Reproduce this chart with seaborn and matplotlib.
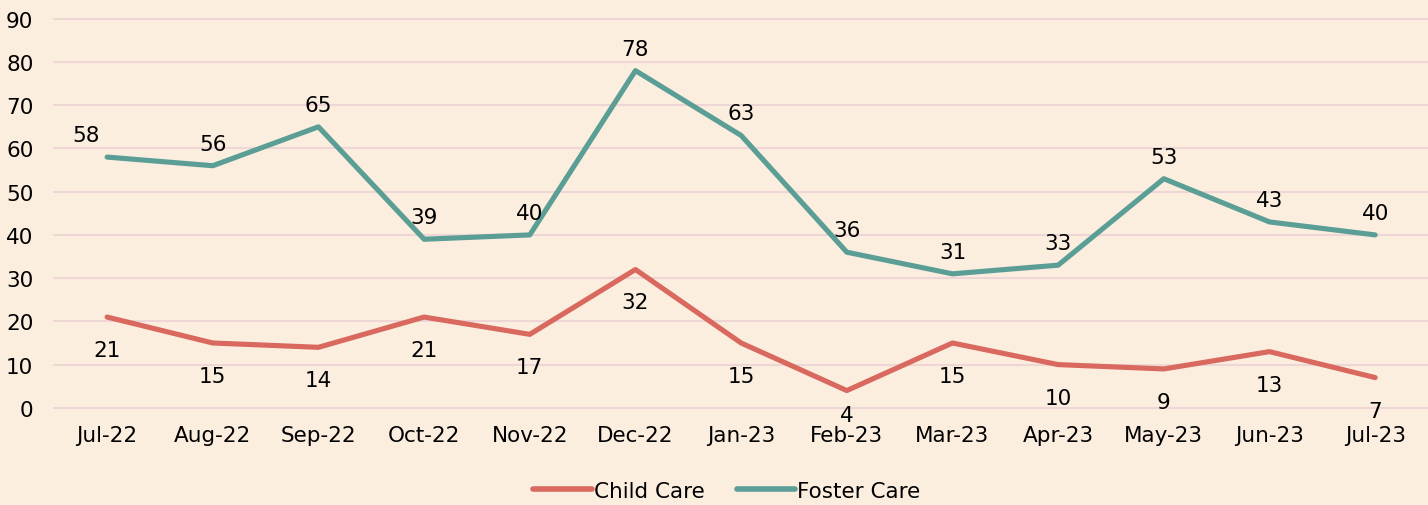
import pandas as pd
import seaborn as sns
import matplotlib.pyplot as plt

months = ["Jul-22", "Aug-22", "Sep-22", "Oct-22", "Nov-22", "Dec-22", "Jan-23",
          "Feb-23", "Mar-23", "Apr-23", "May-23", "Jun-23", "Jul-23"]
child_care = [21, 15, 14, 21, 17, 32, 15, 4, 15, 10, 9, 13, 7]
foster_care = [58, 56, 65, 39, 40, 78, 63, 36, 31, 33, 53, 43, 40]

bg = "#FCEEDF"
colors = {"Child Care": "#D9695F", "Foster Care": "#5B9E96"}

df = pd.DataFrame({"Month": months * 2,
                   "Value": child_care + foster_care,
                   "Series": ["Child Care"] * len(months) + ["Foster Care"] * len(months)})

sns.set_style("white")
plt.rcParams['font.family'] = ['DejaVu Sans']
plt.rcParams['text.color'] = 'black'

fig = plt.figure(figsize=(14.28, 5.06), dpi=100, facecolor=bg)
ax = fig.add_axes([0.038, 0.192, 0.962, 0.769])
ax.set_facecolor(bg)

sns.lineplot(data=df, x="Month", y="Value", hue="Series", palette=colors,
             linewidth=3.7, sort=False, ax=ax, legend=True)
for line in ax.lines:
    line.set_solid_capstyle("round")

ax.set_xlim(-0.5, len(months) - 0.5)
ax.set_ylim(0, 90)
ax.set_yticks(range(0, 91, 10))
ax.grid(axis="y", color="#EDD6D5", linewidth=1.5)
for gl in ax.get_ygridlines():
    gl.set_clip_on(False)
ax.set_axisbelow(True)
for s in ax.spines.values():
    s.set_visible(False)
ax.tick_params(axis="both", length=0, labelsize=15.5, colors="black")
ax.tick_params(axis="x", pad=12)
ax.tick_params(axis="y", pad=15)
ax.set_xlabel("")
ax.set_ylabel("")

# data labels: child care below, foster care above
for i, v in enumerate(child_care):
    dy = -33 if v != 4 else -24
    ax.annotate(str(v), (i, v), xytext=(0, dy), textcoords="offset pixels",
                ha="center", va="center", fontsize=15.5, color="black")
for i, v in enumerate(foster_care):
    dx = -21 if i == 0 else 0
    ax.annotate(str(v), (i, v), xytext=(dx, 22), textcoords="offset pixels",
                ha="center", va="center", fontsize=15.5, color="black")

handles, labels = ax.get_legend_handles_labels()
ax.get_legend().remove()
leg = fig.legend(handles, labels, loc="center", bbox_to_anchor=(0.509, 0.028), ncol=2,
                 frameon=False, fontsize=15.5, handlelength=2.7, handletextpad=0.1,
                 columnspacing=1.5, borderaxespad=0)
for h in leg.get_lines():
    h.set_linewidth(4)
    h.set_solid_capstyle("round")

fig.savefig("out.png", dpi=100, facecolor=bg)
